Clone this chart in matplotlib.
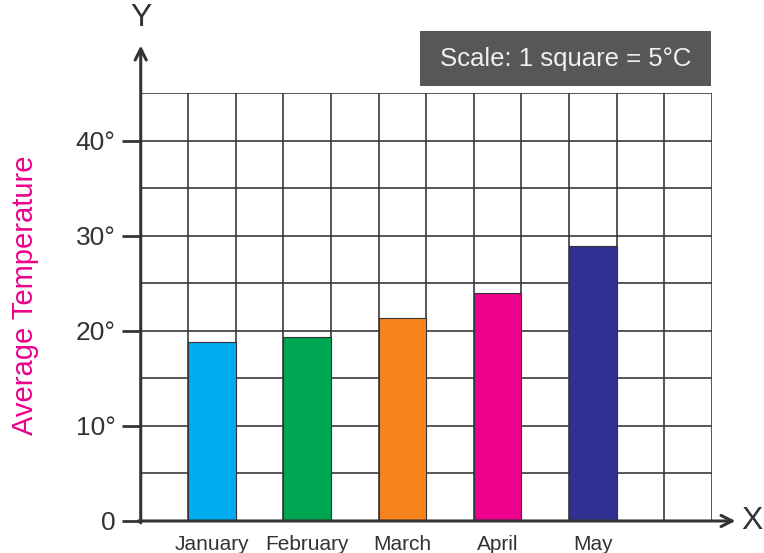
import numpy as np
import matplotlib.pyplot as plt
from matplotlib.patches import Rectangle

plt.rcParams['font.family'] = ['Liberation Sans', 'DejaVu Sans']

# data
months = ['January', 'February', 'March', 'April', 'May']
temps = [18.8, 19.3, 21.3, 24.0, 28.9]
colors = ['#00AEEF', '#00A651', '#F7841E', '#EC008C', '#2E3192']
ytick_vals = [0, 10, 20, 30, 40]
ytick_labels = ['0', '10°', '20°', '30°', '40°']

fig = plt.figure(figsize=(7.64, 5.53), dpi=100)
ax = fig.add_axes([0.1842, 0.0579, 0.7474, 0.7739])

# each month sits in every other grid column
pos = 2 * np.arange(len(months)) + 1.5
ax.bar(pos, temps, width=1.0, color=colors, edgecolor='#333333', linewidth=0.8, zorder=3)

ax.set_xlim(0, 12)
ax.set_ylim(0, 45)

# grid squares
ax.set_xticks(np.arange(0, 13), minor=True)
ax.set_yticks(np.arange(0, 46, 5), minor=True)
ax.grid(which='minor', axis='x', color='#3a3a3a', linewidth=1.2, zorder=1)
ax.grid(which='both', axis='y', color='#3a3a3a', linewidth=1.2, zorder=1)
ax.tick_params(which='minor', length=0)

ax.set_xticks(pos)
ax.set_xticklabels(months, fontsize=15, color='#333333')
ax.tick_params(axis='x', which='major', length=0, pad=10)

ax.set_yticks(ytick_vals)
ax.set_yticklabels(ytick_labels, fontsize=19, color='#333333')
ax.tick_params(axis='y', which='major', length=14, width=2, color='#333333', pad=4)

for s in ['top', 'right', 'left', 'bottom']:
    ax.spines[s].set_visible(False)

# axes with arrows
arr = dict(arrowstyle='->', lw=2.2, color='#333333', mutation_scale=20, shrinkA=0, shrinkB=0)
ax.annotate('', xy=(0, 50), xytext=(0, -0.2), arrowprops=arr, annotation_clip=False, zorder=5)
ax.annotate('', xy=(12.5, 0), xytext=(-0.05, 0), arrowprops=arr, annotation_clip=False, zorder=5)
ax.text(0, 51.3, 'Y', fontsize=23, color='#333333', ha='center', va='bottom', clip_on=False)
ax.text(12.62, 0, 'X', fontsize=23, color='#333333', ha='left', va='center', clip_on=False)

fig.text(0.033, 0.466, 'Average Temperature', rotation=90, fontsize=21,
         color='#EC008C', ha='center', va='center')

# scale box
fig.patches.append(Rectangle((0.5497, 0.8445), 0.381, 0.0995, transform=fig.transFigure,
                             facecolor='#575757', edgecolor='none', figure=fig))
fig.text(0.740, 0.894, 'Scale: 1 square = 5°C', fontsize=18.5, color='#f0f0f0',
         ha='center', va='center')

fig.savefig('out.png', dpi=100)
